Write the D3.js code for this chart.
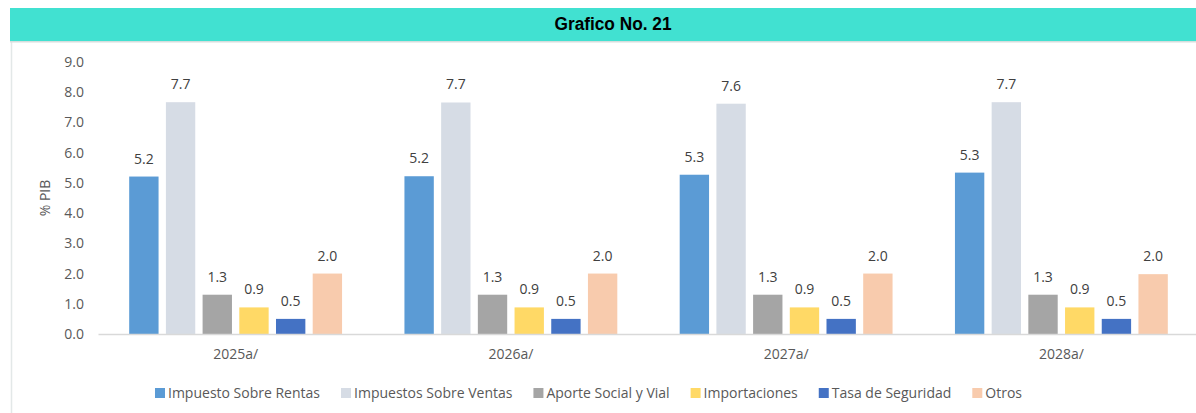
<!DOCTYPE html>
<html>
<head>
<meta charset="utf-8">
<script src="https://cdn.jsdelivr.net/npm/d3@7"></script>
<style>
  body { margin: 0; background: #fff; }
  svg { display: block; }
</style>
</head>
<body>
<svg id="chart" width="1196" height="413"></svg>
<script>
// data
var years = ["2025a/", "2026a/", "2027a/", "2028a/"]
var series = ["Impuesto Sobre Rentas", "Impuestos Sobre Ventas", "Aporte Social y Vial", "Importaciones", "Tasa de Seguridad", "Otros"]
var colors = ["#5B9BD5", "#D6DCE5", "#A5A5A5", "#FFD966", "#4472C4", "#F8CBAD"]
var rentas = [5.21, 5.22, 5.27, 5.34]
var ventas = [7.67, 7.66, 7.62, 7.67]
var aporte = [1.3, 1.3, 1.3, 1.3]
var importaciones = [0.88, 0.88, 0.88, 0.88]
var tasa = [0.5, 0.5, 0.5, 0.5]
var otros = [2.0, 2.0, 2.0, 1.98]
var yTicks = [0, 1, 2, 3, 4, 5, 6, 7, 8, 9]

var values = [rentas, ventas, aporte, importaciones, tasa, otros]
var rows = []
years.forEach(function (yr, i) {
	series.forEach(function (s, j) {
		rows.push({ year: yr, series: s, value: values[j][i], color: colors[j] })
	})
})

var chart = d3.select("#chart")
var W = 1196, H = 413
var TXT = "#595959"
var FONT = "'Open Sans', 'Noto Sans', sans-serif"

// left frame line + title band
chart.append("line")
	.attr("x1", 11.5).attr("x2", 11.5).attr("y1", 42).attr("y2", H)
	.attr("stroke", "#e3e8e8").attr("stroke-width", 1.5)
chart.append("rect")
	.attr("x", 10).attr("y", 8).attr("width", W - 10).attr("height", 33)
	.attr("fill", "#41E1D1")
chart.append("rect")
	.attr("x", 10).attr("y", 41).attr("width", W - 10).attr("height", 1.5)
	.attr("fill", "#d6dedd")
chart.append("text")
	.attr("x", 613).attr("y", 30)
	.attr("text-anchor", "middle")
	.attr("font-family", "'Liberation Sans Narrow', 'Arial Narrow', 'Liberation Sans', sans-serif")
	.attr("font-size", "18px")
	.attr("font-weight", "bold")
	.attr("textLength", 117)
	.attr("lengthAdjust", "spacingAndGlyphs")
	.attr("fill", "#000")
	.text("Grafico No. 21")

// scales
var x0 = d3.scaleBand().domain(years).range([98, 1199])
var x1 = d3.scaleBand().domain(series).range([0, x0.bandwidth()])
	.paddingInner(0.2).paddingOuter(0.85)
var y = d3.scaleLinear().domain([0, 9]).range([334, 62])

// y axis labels
var yAxis = chart.append("g")
	.attr("transform", "translate(84,0)")
	.call(d3.axisLeft(y).tickValues(yTicks).tickFormat(d3.format(".1f")).tickSize(0).tickPadding(0))
yAxis.select(".domain").remove()
yAxis.selectAll("text")
	.attr("font-family", FONT)
	.attr("font-size", "14px")
	.attr("fill", TXT)

chart.append("text")
	.attr("transform", "translate(50," + ((y(0) + y(9)) / 2) + ") rotate(-90)")
	.attr("text-anchor", "middle")
	.attr("font-family", FONT)
	.attr("font-size", "14px")
	.attr("fill", TXT)
	.text("% PIB")

// bars
var bars = chart.append("g")
bars.selectAll("rect").data(rows).enter()
	.append("rect")
	.attr("x", d => x0(d.year) + x1(d.series))
	.attr("y", d => y(d.value))
	.attr("width", x1.bandwidth())
	.attr("height", d => y(0) - y(d.value))
	.attr("fill", d => d.color)

// value labels
bars.selectAll("text").data(rows).enter()
	.append("text")
	.attr("x", d => x0(d.year) + x1(d.series) + x1.bandwidth() / 2)
	.attr("y", d => y(d.value) - 13)
	.attr("text-anchor", "middle")
	.attr("font-family", FONT)
	.attr("font-size", "14px")
	.attr("fill", "#404040")
	.text(d => d3.format(".1f")(d.value))

// x axis
var xAxis = chart.append("g")
	.attr("transform", "translate(0," + y(0) + ")")
	.call(d3.axisBottom(x0).tickSize(0).tickPadding(15))
xAxis.select(".domain").attr("stroke", "#d9d9d9").attr("stroke-width", 1.5)
xAxis.selectAll("text")
	.attr("font-family", FONT)
	.attr("font-size", "14px")
	.attr("fill", TXT)

// legend
var legend = chart.append("g")
var lx = 0
var GAP = 21
series.forEach(function (s, i) {
	var g = legend.append("g")
	g.append("rect").attr("width", 10).attr("height", 10).attr("y", -5).attr("fill", colors[i])
	var t = g.append("text")
		.attr("x", 13).attr("dy", "0.35em")
		.attr("font-family", FONT)
		.attr("font-size", "14px")
		.attr("fill", TXT)
		.text(s)
	var w = 13 + t.node().getComputedTextLength()
	g.attr("transform", "translate(" + lx + ",0)")
	lx += w + GAP
})
var legendW = lx - GAP
legend.attr("transform", "translate(" + (588.5 - legendW / 2) + ",393)")
</script>
</body>
</html>
